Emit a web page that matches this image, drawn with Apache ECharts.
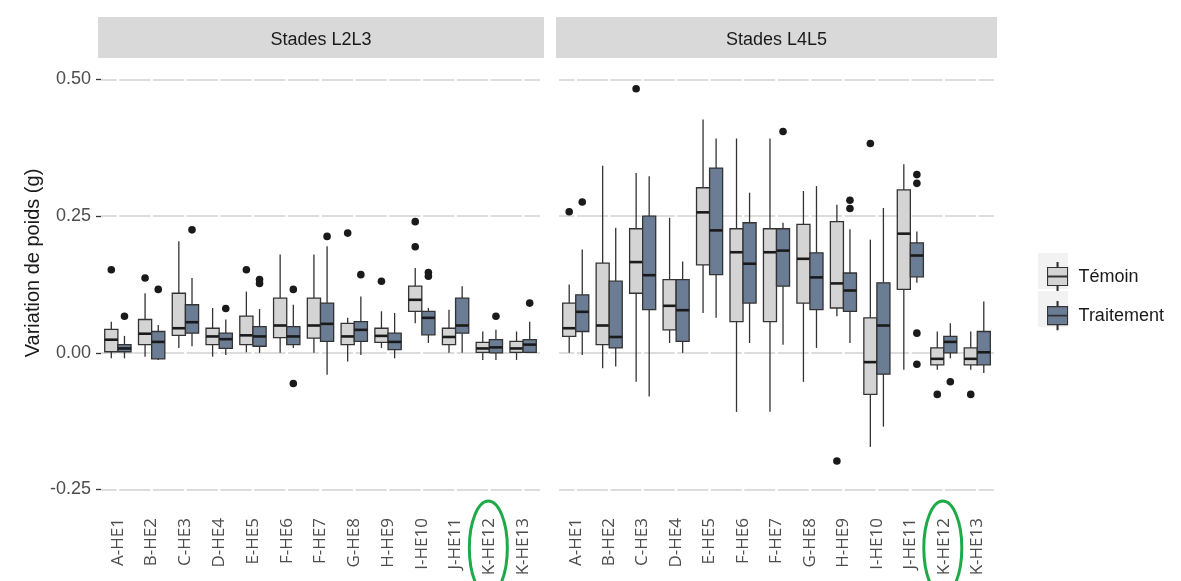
<!DOCTYPE html>
<html>
<head>
<meta charset="utf-8">
<script src="https://cdn.jsdelivr.net/npm/echarts@6/dist/echarts.min.js"></script>
<style>
html,body{margin:0;padding:0;background:#fff;}
#chart{width:1181px;height:581px;}
</style>
</head>
<body>
<div id="chart"></div>
<script>
// ---------- DATA ----------
const categories = ['A-HE1','B-HE2','C-HE3','D-HE4','E-HE5','F-HE6','F-HE7','G-HE8','H-HE9','I-HE10','J-HE11','K-HE12','K-HE13'];
const panelTitles = ['Stades L2L3', 'Stades L4L5'];
const groupNames = ['Témoin', 'Traitement'];
const yTicks = [-0.25, 0, 0.25, 0.5];

// [low whisker, Q1, median, Q3, high whisker]
const l2l3Temoin = [
  [-0.010, 0.002, 0.024, 0.043, 0.057],
  [-0.007, 0.015, 0.035, 0.061, 0.109],
  [0.009, 0.032, 0.045, 0.109, 0.204],
  [-0.007, 0.015, 0.030, 0.045, 0.082],
  [0.001, 0.015, 0.032, 0.067, 0.112],
  [0.000, 0.028, 0.050, 0.100, 0.180],
  [0.000, 0.027, 0.050, 0.100, 0.180],
  [-0.016, 0.015, 0.030, 0.054, 0.064],
  [0.009, 0.019, 0.031, 0.045, 0.076],
  [0.054, 0.076, 0.097, 0.122, 0.155],
  [0.000, 0.015, 0.029, 0.045, 0.079],
  [-0.013, 0.001, 0.008, 0.019, 0.039],
  [-0.013, 0.001, 0.008, 0.021, 0.039]
];
const l2l3Traitement = [
  [-0.010, 0.002, 0.008, 0.015, 0.031],
  [-0.013, -0.011, 0.020, 0.039, 0.051],
  [0.012, 0.036, 0.056, 0.088, 0.137],
  [-0.004, 0.008, 0.025, 0.036, 0.061],
  [0.000, 0.012, 0.030, 0.048, 0.080],
  [0.009, 0.015, 0.030, 0.048, 0.088],
  [-0.040, 0.021, 0.053, 0.091, 0.195],
  [-0.004, 0.021, 0.042, 0.057, 0.103],
  [-0.010, 0.006, 0.020, 0.036, 0.073],
  [0.018, 0.033, 0.064, 0.076, 0.082],
  [0.000, 0.036, 0.050, 0.100, 0.122],
  [-0.013, 0.000, 0.010, 0.024, 0.042],
  [0.000, 0.001, 0.015, 0.024, 0.057]
];
const l4l5Temoin = [
  [0.000, 0.030, 0.045, 0.091, 0.125],
  [-0.028, 0.015, 0.050, 0.164, 0.342],
  [-0.053, 0.109, 0.166, 0.227, 0.329],
  [0.018, 0.042, 0.086, 0.134, 0.247],
  [0.073, 0.161, 0.257, 0.302, 0.427],
  [-0.108, 0.057, 0.184, 0.227, 0.392],
  [-0.108, 0.057, 0.184, 0.227, 0.392],
  [-0.053, 0.091, 0.172, 0.235, 0.296],
  [0.067, 0.082, 0.127, 0.240, 0.271],
  [-0.172, -0.076, -0.017, 0.064, 0.207],
  [-0.031, 0.116, 0.218, 0.298, 0.345],
  [-0.031, -0.022, -0.011, 0.009, 0.039],
  [-0.031, -0.022, -0.011, 0.009, 0.039]
];
const l4l5Traitement = [
  [-0.004, 0.039, 0.075, 0.106, 0.189],
  [-0.025, 0.009, 0.029, 0.131, 0.229],
  [-0.080, 0.079, 0.142, 0.250, 0.323],
  [0.000, 0.021, 0.078, 0.134, 0.167],
  [0.064, 0.143, 0.224, 0.338, 0.392],
  [0.018, 0.091, 0.163, 0.238, 0.293],
  [0.015, 0.122, 0.187, 0.227, 0.238],
  [0.009, 0.079, 0.138, 0.183, 0.305],
  [0.018, 0.076, 0.114, 0.146, 0.226],
  [-0.135, -0.039, 0.050, 0.128, 0.265],
  [0.128, 0.139, 0.178, 0.201, 0.222],
  [-0.010, 0.000, 0.020, 0.030, 0.054],
  [-0.037, -0.022, 0.001, 0.039, 0.094]
];
// outliers: [category, value]
const l2l3TemoinOut = [['A-HE1',0.152],['B-HE2',0.137],['E-HE5',0.152],['G-HE8',0.219],['H-HE9',0.131],['I-HE10',0.240],['I-HE10',0.194]];
const l2l3TraitementOut = [['A-HE1',0.067],['B-HE2',0.116],['C-HE3',0.225],['D-HE4',0.081],['E-HE5',0.134],['E-HE5',0.127],['F-HE6',0.116],['F-HE6',-0.056],['F-HE7',0.213],['G-HE8',0.143],['I-HE10',0.147],['I-HE10',0.140],['K-HE12',0.067],['K-HE13',0.091]];
const l4l5TemoinOut = [['A-HE1',0.258],['C-HE3',0.483],['H-HE9',-0.198],['I-HE10',0.383],['K-HE12',-0.076],['K-HE13',-0.076]];
const l4l5TraitementOut = [['A-HE1',0.276],['F-HE7',0.405],['H-HE9',0.279],['H-HE9',0.264],['J-HE11',0.326],['J-HE11',0.310],['J-HE11',0.036],['J-HE11',-0.021],['K-HE12',-0.053]];
const highlighted = 'K-HE12';

// ---------- STYLE / LAYOUT ----------
const colors = ['#d4d4d4', '#6b7d94'];
const edge = '#333333';
const grids = [
  {left: 101, top: 59, width: 439, height: 451},
  {left: 559, top: 59, width: 435, height: 451}
];
const strips = [{x: 98, w: 446}, {x: 556, w: 441}];
const dodge = [-0.195, 0.195];
const boxFrac = 0.39;

function boxRender(off) {
  return function (params, api) {
    const cat = api.value(0);
    const band = api.size([1, 0])[0];
    const cx = api.coord([cat, 0])[0] + off * band;
    const w = band * boxFrac;
    const yLo = api.coord([cat, api.value(1)])[1];
    const yQ1 = api.coord([cat, api.value(2)])[1];
    const yMed = api.coord([cat, api.value(3)])[1];
    const yQ3 = api.coord([cat, api.value(4)])[1];
    const yHi = api.coord([cat, api.value(5)])[1];
    const fill = api.visual('color');
    return {
      type: 'group',
      children: [
        {type: 'line', shape: {x1: cx, y1: yHi, x2: cx, y2: yQ3}, style: {stroke: edge, lineWidth: 1.3}},
        {type: 'line', shape: {x1: cx, y1: yQ1, x2: cx, y2: yLo}, style: {stroke: edge, lineWidth: 1.3}},
        {type: 'rect', shape: {x: cx - w / 2, y: yQ3, width: w, height: yQ1 - yQ3}, style: {fill: fill, stroke: edge, lineWidth: 1.3}},
        {type: 'line', shape: {x1: cx - w / 2, y1: yMed, x2: cx + w / 2, y2: yMed}, style: {stroke: '#1a1a1a', lineWidth: 2.6}}
      ]
    };
  };
}
function outRender(off) {
  return function (params, api) {
    const cat = api.value(0);
    const band = api.size([1, 0])[0];
    const p = api.coord([cat, api.value(1)]);
    return {type: 'circle', shape: {cx: p[0] + off * band, cy: p[1], r: 3.8}, style: {fill: '#1a1a1a'}};
  };
}

const boxSets = [[l2l3Temoin, l2l3Traitement], [l4l5Temoin, l4l5Traitement]];
const outSets = [[l2l3TemoinOut, l2l3TraitementOut], [l4l5TemoinOut, l4l5TraitementOut]];

const series = [];
for (let p = 0; p < 2; p++) {
  const cw = grids[p].width / categories.length;
  for (let g = 0; g < 2; g++) {
    const s = {
      type: 'custom',
      name: groupNames[g],
      xAxisIndex: p, yAxisIndex: p,
      z: 3,
      itemStyle: {color: colors[g]},
      encode: {x: 0, y: [1, 2, 3, 4, 5]},
      renderItem: boxRender(dodge[g]),
      data: boxSets[p][g].map((d, i) => [i].concat(d))
    };
    if (g === 0) {
      s.markLine = {
        silent: true, z: 1, symbol: ['none', 'none'],
        label: {show: false},
        lineStyle: {color: '#d2d2d2', width: 1.6, type: [cw - 2.5, 2.5], dashOffset: cw / 2 - 1.25},
        emphasis: {disabled: true},
        data: yTicks.map(v => ({yAxis: v}))
      };
    }
    series.push(s);
    series.push({
      type: 'custom',
      name: groupNames[g] + ' outliers',
      xAxisIndex: p, yAxisIndex: p,
      z: 4,
      encode: {x: 0, y: 1},
      renderItem: outRender(dodge[g]),
      data: outSets[p][g].map(o => [categories.indexOf(o[0]), o[1]])
    });
  }
}

const boxIcon = 'path://M10.5,0 h1 v5 h-1 Z M1,5 h20 v18 h-20 Z M1,13.6 h20 v0.8 h-20 Z M10.5,23 h1 v5 h-1 Z';

const chart = echarts.init(document.getElementById('chart'), null, {renderer: 'canvas'});
const option = {
  animation: false,
  textStyle: {fontFamily: 'Liberation Sans, Arial, sans-serif'},
  grid: grids.map(g => Object.assign({containLabel: false}, g)),
  xAxis: [0, 1].map(p => ({
    type: 'category', gridIndex: p, data: categories,
    axisLine: {show: false, onZero: false},
    axisTick: {show: false},
    axisLabel: {rotate: 90, fontSize: 17, color: '#4d4d4d', margin: 8, fontFamily: 'Open Sans, sans-serif'},
    splitLine: {show: false}
  })),
  yAxis: [0, 1].map(p => ({
    type: 'value', gridIndex: p, min: -0.2875, max: 0.5375,
    axisLine: {show: false, onZero: false},
    splitLine: {show: false},
    axisTick: {show: p === 0, customValues: yTicks, length: 5, lineStyle: {color: edge, width: 1.3}},
    axisLabel: {show: p === 0, customValues: yTicks, formatter: v => v.toFixed(2), fontSize: 18, color: '#4d4d4d', margin: 10}
  })),
  legend: {
    orient: 'vertical', left: 1042, top: 257,
    itemWidth: 22, itemHeight: 28, itemGap: 10,
    itemStyle: {borderColor: edge, borderWidth: 1.1},
    textStyle: {fontSize: 18, color: '#1a1a1a', padding: [0, 0, 0, 5]},
    data: groupNames.map(n => ({name: n, icon: boxIcon}))
  },
  graphic: [
    {type: 'rect', left: 1038, top: 253, shape: {width: 30, height: 36}, style: {fill: '#f2f2f2'}, z: -1},
    {type: 'rect', left: 1038, top: 291, shape: {width: 30, height: 36}, style: {fill: '#f2f2f2'}, z: -1},
    {type: 'text', x: 33, y: 263, rotation: Math.PI / 2, style: {text: 'Variation de poids (g)', fontSize: 20, fill: '#1a1a1a', align: 'center', verticalAlign: 'middle', fontFamily: 'Liberation Sans, Arial, sans-serif'}}
  ].concat(strips.map((s, i) => ({
    type: 'group', children: [
      {type: 'rect', shape: {x: s.x, y: 17, width: s.w, height: 41}, style: {fill: '#d9d9d9'}},
      {type: 'text', x: s.x + s.w / 2, y: 40, style: {text: panelTitles[i], fontSize: 18, fill: '#1a1a1a', align: 'center', verticalAlign: 'middle', fontFamily: 'Liberation Sans, Arial, sans-serif'}}
    ]
  }))),
  series: series
};
chart.setOption(option);

// green ellipses around the highlighted category labels
const ellipses = [0, 1].map(p => {
  const pt = chart.convertToPixel({gridIndex: p}, [categories.indexOf(highlighted), -0.2875]);
  return {type: 'ellipse', shape: {cx: pt[0] - 1, cy: pt[1] + 38, rx: 19, ry: 47}, style: {fill: 'none', stroke: '#1faa4a', lineWidth: 3}, z: 10};
});
chart.setOption({graphic: option.graphic.concat(ellipses)});
</script>
</body>
</html>
